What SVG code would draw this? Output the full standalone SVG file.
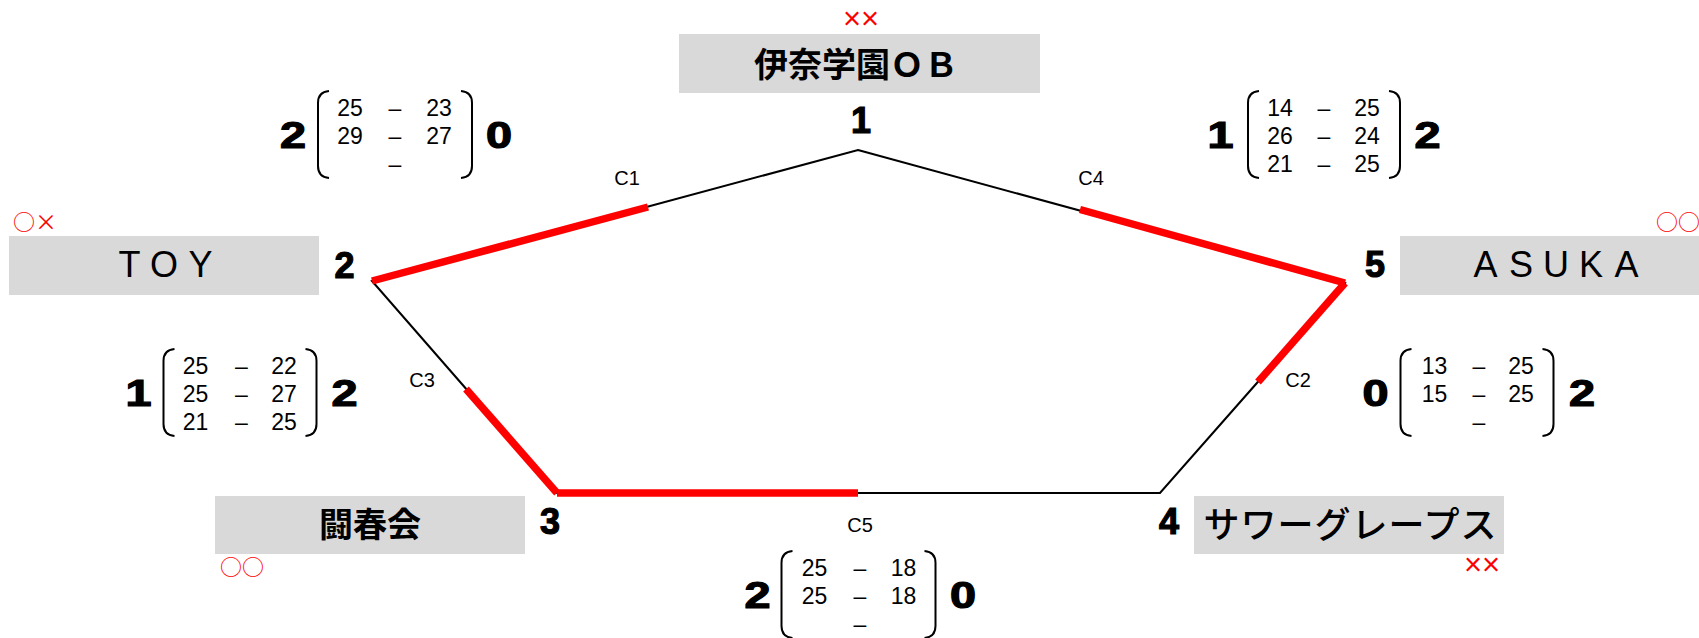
<svg xmlns="http://www.w3.org/2000/svg" width="1699" height="638" viewBox="0 0 1699 638">
<style>
.box{fill:#d9d9d9}
.jp{font-family:"Noto Sans CJK JP","Noto Sans",sans-serif;font-size:34px;fill:#000;text-anchor:middle}
.lat{font-family:"Liberation Sans",Arial,sans-serif;font-size:36px;fill:#000;text-anchor:middle}
.num{font-family:"Liberation Sans",Arial,sans-serif;font-size:36px;font-weight:bold;fill:#000;stroke:#000;stroke-width:1.2;text-anchor:middle}
.mark{font-family:"Noto Sans CJK JP",sans-serif;font-size:22px;fill:#ff0000}
.x2{font-family:"Liberation Sans",Arial,sans-serif;font-size:31px;fill:#ff0000}
.s{font-family:"Liberation Sans",Arial,sans-serif;font-size:23px;fill:#000;text-anchor:middle}
.lbl{font-family:"Liberation Sans",Arial,sans-serif;font-size:20px;fill:#000;text-anchor:middle}
.br{fill:none;stroke:#000;stroke-width:2}
.edge{fill:none;stroke:#000;stroke-width:2}
.win{fill:none;stroke:#ff0000;stroke-width:7.5}
</style>
<rect width="1699" height="638" fill="#fff"/>

<g id="connectors">
  <polygon class="edge" points="858,150 1345,283 1160,493 557,493 372,281"/>
  <line class="win" x1="372" y1="281" x2="648" y2="207"/>
  <line class="win" x1="1080" y1="209.5" x2="1345" y2="283"/>
  <line class="win" x1="1345" y1="283" x2="1258" y2="382"/>
  <line class="win" x1="466" y1="389" x2="557" y2="493"/>
  <line class="win" x1="557" y1="493" x2="858" y2="493"/>
  <text class="lbl" x="627" y="185">C1</text>
  <text class="lbl" x="1091" y="185">C4</text>
  <text class="lbl" x="1298" y="387">C2</text>
  <text class="lbl" x="422" y="387">C3</text>
  <text class="lbl" x="860" y="532">C5</text>
</g>

<g id="node-1">
  <rect class="box" x="679" y="34" width="361" height="59"/>
  <text class="jp" x="856" y="77" font-weight="bold">伊奈学園ＯＢ</text>
  <text class="num" x="861" y="133">1</text>
  <text class="x2" x="843" y="28.5">××</text>
</g>

<g id="node-2">
  <rect class="box" x="9" y="236" width="310" height="59"/>
  <text class="lat" x="129.5 164 200.5" y="277">TOY</text>
  <text class="num" x="344.5" y="278">2</text>
  <text class="mark" x="13" y="230">○×</text>
</g>

<g id="node-3">
  <rect class="box" x="215" y="496" width="310" height="58"/>
  <text class="jp" x="370" y="537" font-weight="bold">闘春会</text>
  <text class="num" x="550" y="534">3</text>
  <text class="mark" x="220" y="575">○○</text>
</g>

<g id="node-4">
  <rect class="box" x="1194" y="496" width="310" height="58"/>
  <text class="jp" x="1350" y="538" style="font-size:36px" font-weight="500" letter-spacing="1" dx="0.5">サワーグレープス</text>
  <text class="num" x="1169" y="534">4</text>
  <text class="x2" x="1464" y="575">××</text>
</g>

<g id="node-5">
  <rect class="box" x="1400" y="236" width="299" height="59"/>
  <text class="lat" x="1485.5 1521 1556 1591 1626.5" y="277">ASUKA</text>
  <text class="num" x="1375" y="277">5</text>
  <text class="mark" x="1656" y="230">○○</text>
</g>

<g id="score-c1" transform="translate(350,116)">
  <path class="br" d="M-21,-25 Q-32,-24 -32,-13 V50 Q-32,61 -21,62"/>
  <path class="br" d="M111,-25 Q122,-24 122,-13 V50 Q122,61 111,62"/>
  <text class="s" x="0" y="0">25</text><text class="s" x="45" y="0">–</text><text class="s" x="89" y="0">23</text>
  <text class="s" x="0" y="28">29</text><text class="s" x="45" y="28">–</text><text class="s" x="89" y="28">27</text>
  <text class="s" x="45" y="56">–</text>
  <text class="num" transform="translate(-57,32) scale(1.3,1)">2</text>
  <text class="num" transform="translate(149,32) scale(1.3,1)">0</text>
</g>

<g id="score-c4" transform="translate(1280,116)">
  <path class="br" d="M-21,-25 Q-32,-24 -32,-13 V50 Q-32,61 -21,62"/>
  <path class="br" d="M109,-25 Q120,-24 120,-13 V50 Q120,61 109,62"/>
  <text class="s" x="0" y="0">14</text><text class="s" x="44" y="0">–</text><text class="s" x="87" y="0">25</text>
  <text class="s" x="0" y="28">26</text><text class="s" x="44" y="28">–</text><text class="s" x="87" y="28">24</text>
  <text class="s" x="0" y="56">21</text><text class="s" x="44" y="56">–</text><text class="s" x="87" y="56">25</text>
  <text class="num" transform="translate(-59.5,32) scale(1.3,1)">1</text>
  <text class="num" transform="translate(147.5,32) scale(1.3,1)">2</text>
</g>

<g id="score-c3" transform="translate(195.5,374)">
  <path class="br" d="M-21,-25 Q-32,-24 -32,-13 V50 Q-32,61 -21,62"/>
  <path class="br" d="M110,-25 Q121,-24 121,-13 V50 Q121,61 110,62"/>
  <text class="s" x="0" y="0">25</text><text class="s" x="46" y="0">–</text><text class="s" x="88.5" y="0">22</text>
  <text class="s" x="0" y="28">25</text><text class="s" x="46" y="28">–</text><text class="s" x="88.5" y="28">27</text>
  <text class="s" x="0" y="56">21</text><text class="s" x="46" y="56">–</text><text class="s" x="88.5" y="56">25</text>
  <text class="num" transform="translate(-57,32) scale(1.3,1)">1</text>
  <text class="num" transform="translate(149,32) scale(1.3,1)">2</text>
</g>

<g id="score-c2" transform="translate(1434.5,374)">
  <path class="br" d="M-23,-25 Q-34,-24 -34,-13 V50 Q-34,61 -23,62"/>
  <path class="br" d="M108,-25 Q119,-24 119,-13 V50 Q119,61 108,62"/>
  <text class="s" x="0" y="0">13</text><text class="s" x="44.5" y="0">–</text><text class="s" x="86.5" y="0">25</text>
  <text class="s" x="0" y="28">15</text><text class="s" x="44.5" y="28">–</text><text class="s" x="86.5" y="28">25</text>
  <text class="s" x="44.5" y="56">–</text>
  <text class="num" transform="translate(-59,32) scale(1.3,1)">0</text>
  <text class="num" transform="translate(147.5,32) scale(1.3,1)">2</text>
</g>

<g id="score-c5" transform="translate(814.5,576)">
  <path class="br" d="M-22,-25 Q-33,-24 -33,-13 V50 Q-33,61 -22,62"/>
  <path class="br" d="M110,-25 Q121,-24 121,-13 V50 Q121,61 110,62"/>
  <text class="s" x="0" y="0">25</text><text class="s" x="45.5" y="0">–</text><text class="s" x="89" y="0">18</text>
  <text class="s" x="0" y="28">25</text><text class="s" x="45.5" y="28">–</text><text class="s" x="89" y="28">18</text>
  <text class="s" x="45.5" y="56">–</text>
  <text class="num" transform="translate(-57,32) scale(1.3,1)">2</text>
  <text class="num" transform="translate(148.5,32) scale(1.3,1)">0</text>
</g>
</svg>
